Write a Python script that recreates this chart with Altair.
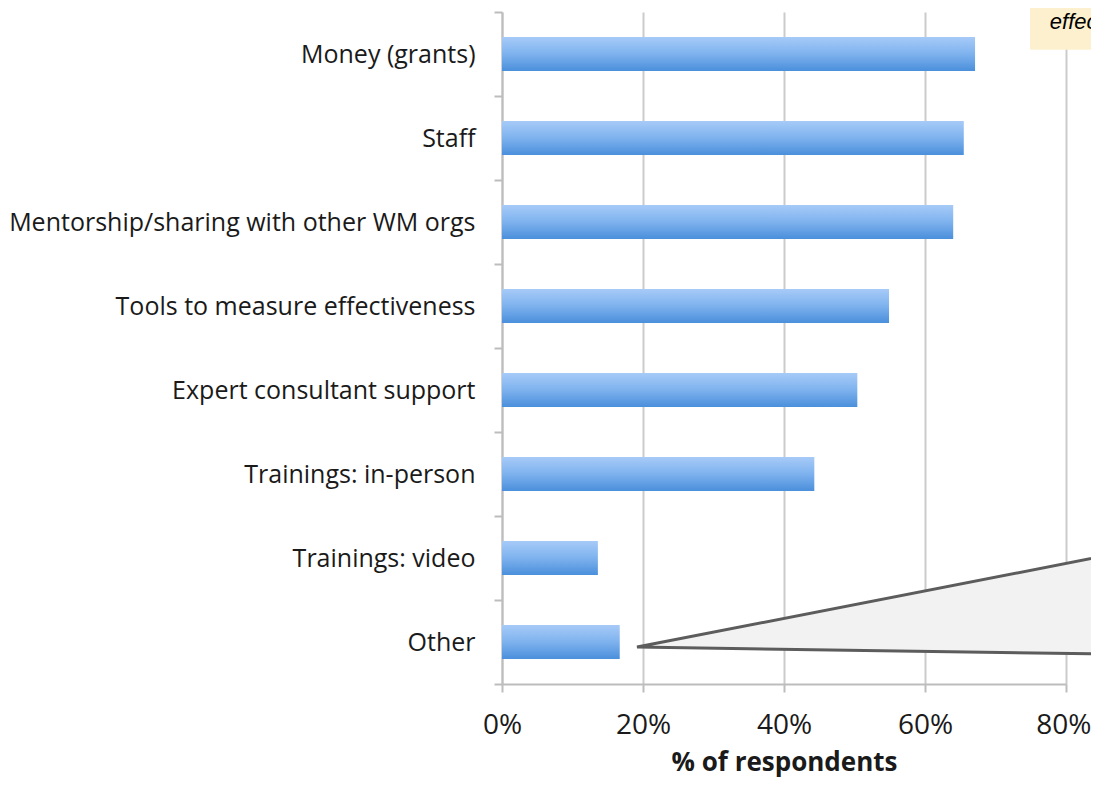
import altair as alt
import pandas as pd

# ---- data ----
categories = [
    "Money (grants)",
    "Staff",
    "Mentorship/sharing with other WM orgs",
    "Tools to measure effectiveness",
    "Expert consultant support",
    "Trainings: in-person",
    "Trainings: video",
    "Other",
]
shares = [0.671, 0.655, 0.640, 0.549, 0.504, 0.443, 0.136, 0.167]
x_ticks = [0, 0.2, 0.4, 0.6, 0.8]
x_title = "% of respondents"

# annotation (callout) in data units: x = share, y = category rows counted from the top
callout_x = [0.1915, 0.87]
callout_top = [7.56, 6.45]
callout_bottom = [7.56, 7.645]

note_x = [0.749, 0.95]
note_y = [-0.3, 0.45]
note_text = ["effectiveness"]
note_text_x = [0.777]
note_text_y = [0.205]

bars_df = pd.DataFrame({"category": categories, "share": shares})
callout_df = pd.DataFrame({"share": callout_x, "top": callout_top, "bottom": callout_bottom})
note_df = pd.DataFrame({"share": [note_x[0]], "x2": [note_x[1]], "y": [note_y[0]], "y2": [note_y[1]]})
note_text_df = pd.DataFrame({"share": note_text_x, "y": note_text_y, "t": note_text})

xscale = alt.Scale(domain=[0, 0.8], nice=False, zero=True)
rowscale = alt.Scale(domain=[0, 8], reverse=True, nice=False, zero=False)
xaxis = alt.Axis(
    values=x_ticks,
    format=".0%",
    title=x_title,
    grid=True,
    labelFlush=False,
    labelFontSize=28,
    labelPadding=19,
    titlePadding=10,
    labelAlign={"condition": {"test": "datum.value >= 0.8", "value": "right"}, "value": "center"},
    labelOffset={"condition": {"test": "datum.value >= 0.8", "value": 25}, "value": 0},
)

gradient = alt.Gradient(
    gradient="linear",
    stops=[
        alt.GradientStop(color="#a7cbf8", offset=0),
        alt.GradientStop(color="#7eb2ee", offset=0.5),
        alt.GradientStop(color="#4a8fdb", offset=1),
    ],
    x1=0, x2=0, y1=0, y2=1,
)

bars = alt.Chart(bars_df).mark_bar(
    color=gradient, height=alt.RelativeBandSize(band=0.405)
).encode(
    x=alt.X("share:Q", scale=xscale, axis=xaxis, title=x_title),
    y=alt.Y(
        "category:N",
        sort=categories,
        scale=alt.Scale(paddingInner=0, paddingOuter=0),
        axis=alt.Axis(title=None, tickBand="extent", grid=False,
                      labelPadding=19, labelLimit=0, labelFontSize=25),
    ),
)

callout = alt.Chart(callout_df).mark_area(
    fill="#f2f2f2", stroke="#5c5c5c", strokeWidth=3, clip=False, orient="vertical"
).encode(
    x=alt.X("share:Q", scale=xscale, axis=xaxis, title=x_title),
    y=alt.Y("top:Q", scale=rowscale, axis=None),
    y2="bottom:Q",
)

note_box = alt.Chart(note_df).mark_rect(fill="#fdf0cf", clip=False).encode(
    x=alt.X("share:Q", scale=xscale, axis=xaxis, title=x_title),
    x2="x2:Q",
    y=alt.Y("y:Q", scale=rowscale, axis=None),
    y2="y2:Q",
)

note_txt = alt.Chart(note_text_df).mark_text(
    font="Liberation Sans", fontStyle="italic", fontSize=22, align="left",
    baseline="alphabetic", color="#000000", clip=False
).encode(
    x=alt.X("share:Q", scale=xscale, axis=xaxis, title=x_title),
    y=alt.Y("y:Q", scale=rowscale, axis=None),
    text="t:N",
)

chart = alt.layer(bars, callout, note_box, note_txt).resolve_scale(
    y="independent"
).properties(
    width=564,
    height=672,
    autosize=alt.AutoSizeParams(type="none"),
    padding={"left": 494, "top": 4, "right": 25, "bottom": 93},
).configure_view(stroke=None).configure_axis(
    labelFont="Open Sans",
    labelFontSize=24,
    labelColor="#1a1a1a",
    titleFont="Open Sans",
    titleFontSize=26,
    titleFontWeight="bold",
    titleColor="#1a1a1a",
    domainColor="#bdbdbd",
    domainWidth=2,
    tickColor="#bdbdbd",
    tickWidth=2,
    tickSize=8,
    gridColor="#cbcbcb",
    gridWidth=2,
)

chart.save("out.html", embed_options={"renderer": "svg", "actions": False})
